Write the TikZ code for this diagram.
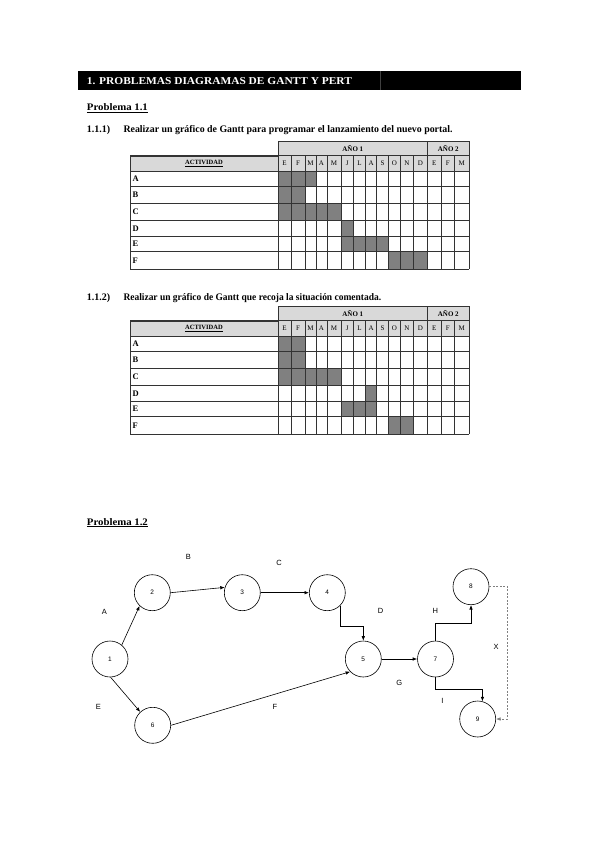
\documentclass[tikz,border=0pt]{standalone}
\usepackage{fontspec}
\setmainfont{Liberation Serif}
\setsansfont{Liberation Sans}
\usetikzlibrary{arrows.meta}
\definecolor{hdrgray}{HTML}{D9D9D9}
\definecolor{cellgray}{HTML}{808080}
\definecolor{gridcol}{HTML}{333333}
\newcommand\fitw[2]{\resizebox{#1}{\height}{#2}}
\def\cx{{278,291,305,316,327,341,353.3,365.7,376.7,388.5,400.5,413.3,427.7,441,454.5,469}}
\def\ry{{171,186.7,203.3,220,236.7,251.7,269}}
\tikzset{
 hdrtxt/.style={font=\fontsize{10.5}{12}\selectfont\bfseries, text=white, anchor=base west, inner sep=0pt},
 ttltxt/.style={font=\fontsize{10}{12}\selectfont\bfseries, anchor=base west, inner sep=0pt},
 yeartxt/.style={font=\fontsize{7}{8}\selectfont\bfseries, inner sep=0pt},
 monthtxt/.style={font=\fontsize{7}{8}\selectfont, inner sep=0pt},
 actlbl/.style={font=\fontsize{8.5}{10}\selectfont\bfseries, anchor=west, inner sep=0pt},
 gridln/.style={draw=gridcol, line width=0.8pt},
 event/.style={circle, draw, line width=0.6pt, minimum size=36pt, inner sep=0pt, font=\sffamily\fontsize{6.5}{7}\selectfont},
 elabel/.style={font=\sffamily\fontsize{7.5}{9}\selectfont, inner sep=0pt},
 arr/.style={line width=0.6pt, -{Latex[length=4.5pt,width=3.5pt]}},
 dumarr/.style={line width=0.6pt, draw=gray, dash pattern=on 2pt off 1.5pt, -{Latex[length=4.5pt,width=3.5pt]}},
}
\newcommand\gantt[3]{%
\begin{scope}[yshift=#1]
 \fill[hdrgray] (278,141) rectangle (469,155.7);
 \fill[hdrgray] (130,155.7) rectangle (469,171);
 \foreach \c/\r in {#2} {
  \pgfmathsetmacro\xa{\cx[\c-1]}
  \pgfmathsetmacro\xb{\cx[\c]}
  \pgfmathsetmacro\ya{\ry[\r-1]}
  \pgfmathsetmacro\yb{\ry[\r]}
  \fill[cellgray] (\xa,\ya) rectangle (\xb,\yb);
 }
 \draw[gridln] (278,141) rectangle (469,155.7);
 \draw[gridln] (427.7,141) -- (427.7,155.7);
 \foreach \x in {130,278,291,305,316,327,341,353.3,365.7,376.7,388.5,400.5,413.3,427.7,441,454.5,469}
  \draw[gridln] (\x,155.7) -- (\x,269);
 \foreach \y in {155.7,171,186.7,203.3,220,236.7,251.7,269}
  \draw[gridln] (130,\y) -- (469,\y);
 \draw[gridcol, line width=1.3pt] (130,156) -- (278,156);
 \node[yeartxt] (#3y1) at (352.8,148.5) {AÑO 1};
 \node[yeartxt] (#3y2) at (448.3,148.5) {AÑO 2};
 \node[yeartxt, font=\fontsize{6.5}{8}\selectfont\bfseries] (#3act) at (204,163.5) {\underline{ACTIVIDAD}};
 \foreach \m [count=\i] in {E,F,M,A,M,J,L,A,S,O,N,D,E,F,M} {
  \pgfmathsetmacro\xa{\cx[\i-1]}
  \pgfmathsetmacro\xb{\cx[\i]}
  \node[monthtxt] (#3m\i) at ({(\xa+\xb)/2},163.5) {\m};
 }
 \foreach \a [count=\i] in {A,B,C,D,E,F} {
  \pgfmathsetmacro\ya{\ry[\i-1]}
  \pgfmathsetmacro\yb{\ry[\i]}
  \node[actlbl] (#3r\i) at (132.5,{(\ya+\yb)/2}) {\a};
 }
\end{scope}}
\begin{document}
\begin{tikzpicture}[x=1pt,y=-1pt]
\useasboundingbox[fill=white] (0,0) rectangle (599,848);
% header bar
\fill[black] (78.3,71) rectangle (520.7,90);
\draw[black!75, line width=0.4pt] (380,71) -- (380,90);
\node[hdrtxt] (hdr) at (86.7,84.3) {\fitw{265pt}{1. PROBLEMAS DIAGRAMAS DE GANTT Y PERT}};
% titles
\node[ttltxt] (p11) at (86.7,111) {\fitw{61pt}{\underline{Problema 1.1}}};
\node[ttltxt] (q111) at (86.7,132.5) {\fitw{23.3pt}{1.1.1)}};
\node[ttltxt] (s111) at (123.3,132.5) {\fitw{329pt}{Realizar un gráfico de Gantt para programar el lanzamiento del nuevo portal.}};
\node[ttltxt] (q112) at (86.7,300.5) {\fitw{23.3pt}{1.1.2)}};
\node[ttltxt] (s112) at (123.3,300.5) {\fitw{257.7pt}{Realizar un gráfico de Gantt que recoja la situación comentada.}};
\node[ttltxt] (p12) at (86.7,525) {\fitw{61pt}{\underline{Problema 1.2}}};
% tables
\gantt{0pt}{1/1,2/1,3/1,1/2,2/2,1/3,2/3,3/3,4/3,5/3,6/4,6/5,7/5,8/5,9/5,10/6,11/6,12/6}{ta}
\gantt{-165pt}{1/1,2/1,1/2,2/2,1/3,2/3,3/3,4/3,5/3,8/4,6/5,7/5,8/5,10/6,11/6}{tb}
% PERT network
\node[event] (n1) at (110,659) {1};
\node[event] (n2) at (152.3,592.7) {2};
\node[event] (n3) at (242.3,592.7) {3};
\node[event] (n4) at (327.3,592.7) {4};
\node[event] (n5) at (363.3,659) {5};
\node[event] (n6) at (152.7,725.3) {6};
\node[event] (n7) at (435.5,659) {7};
\node[event] (n8) at (471,586.7) {8};
\node[event] (n9) at (477.7,719) {9};
\draw[arr] (n1.50) -- (n2.226);
\draw[arr] (n2.east) -- (n3.163);
\draw[arr] (n3) -- (n4);
\draw[arr] (n4.-45) -- ++(0,20.7) -| (n5.north);
\draw[arr] (n1.-88) -- (n6.133);
\draw[arr] (n6.east) -- (n5.-136);
\draw[arr] (n5) -- (n7);
\draw[arr] (n7.north) -- ++(0,-17.7) -| (n8.south);
\draw[arr] (n7.south) -- ++(0,12.3) -| (n9.75);
\draw[dumarr] (n8.east) -- ++(18.3,0) |- (n9.east);
\node[elabel] (lA) at (104.3,611.7) {A};
\node[elabel] (lB) at (188.3,557.3) {B};
\node[elabel] (lC) at (279,562.7) {C};
\node[elabel] (lD) at (380.7,611) {D};
\node[elabel] (lE) at (98.3,707.3) {E};
\node[elabel] (lF) at (275,707.3) {F};
\node[elabel] (lG) at (399.3,683.3) {G};
\node[elabel] (lH) at (435.3,611) {H};
\node[elabel] (lI) at (442.3,701) {I};
\node[elabel] (lX) at (496,646.7) {X};
\end{tikzpicture}
\end{document}
